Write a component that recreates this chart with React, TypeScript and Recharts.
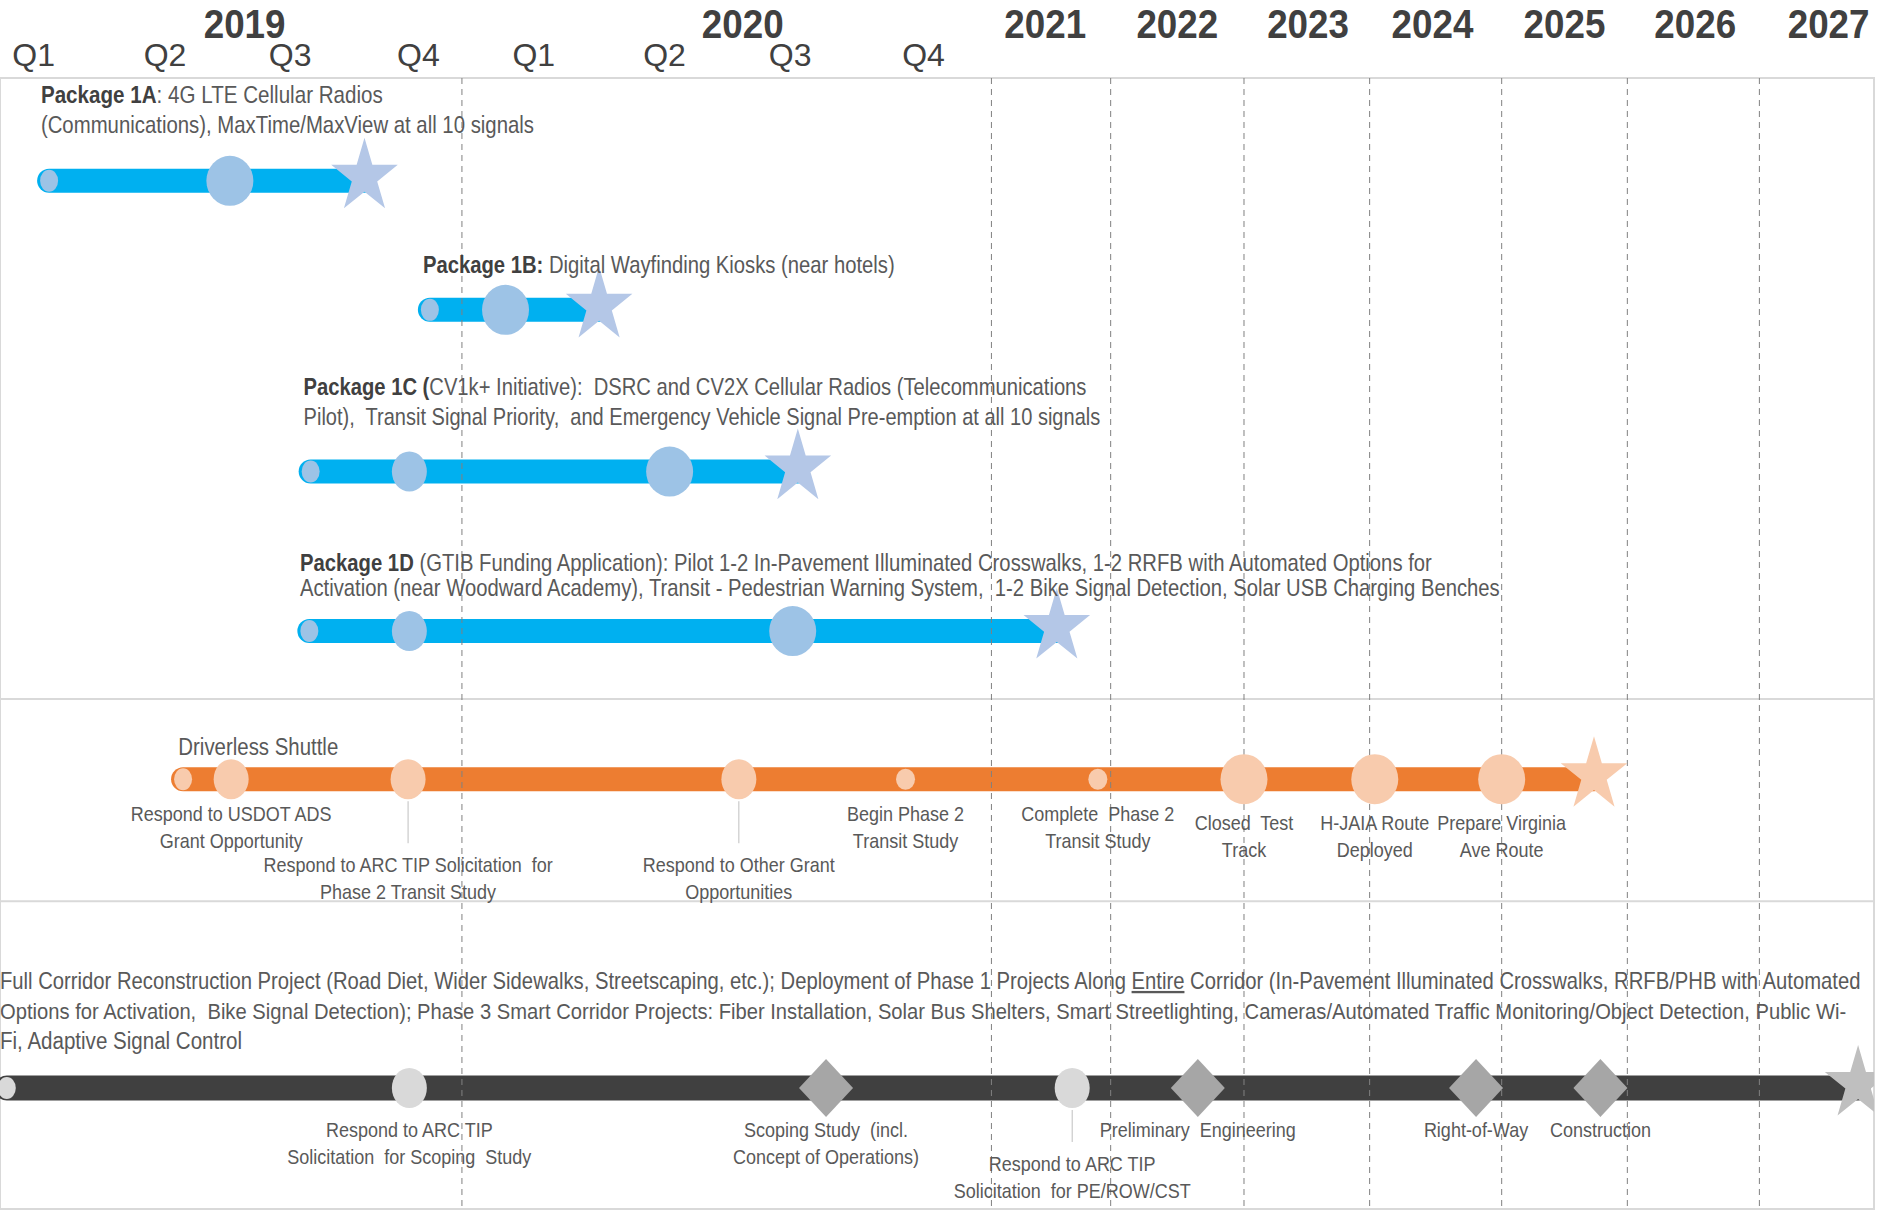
import { useLayoutEffect, useRef, useState } from "react"
import {
  ComposedChart,
  Line,
  Scatter,
  XAxis,
  YAxis,
  ReferenceLine,
  ReferenceArea,
} from "recharts"

const FONT = '"Liberation Sans Narrow", "Arial Narrow", "Liberation Sans", Arial, sans-serif'

// x is a timeline slot: one slot per quarter in 2019-2020, then one per year
const QUARTER_TICKS = [0, 1.024, 2.0, 3.0, 3.9, 4.92, 5.9, 6.94]
const QUARTER_LABELS = ["Q1", "Q2", "Q3", "Q4", "Q1", "Q2", "Q3", "Q4"]
const YEAR_TICKS = [1.645, 5.53, 7.89, 8.92, 9.94, 10.91, 11.94, 12.96, 14.0]
const YEAR_LABELS = ["2019", "2020", "2021", "2022", "2023", "2024", "2025", "2026", "2027"]
const YEAR_BREAKS = [3.34, 7.47, 8.4, 9.44, 10.42, 11.45, 12.43, 13.46]
const SECTION_BREAKS = [54.9, 72.8]
const X_DOMAIN: [number, number] = [-0.263, 14.354]

type Kind = "start" | "minor" | "mid" | "major" | "diamond" | "star"
type Milestone = { x: number; kind: Kind; label?: string[]; tier?: "a" | "b" | "c" }

const LANES = { p1a: 9.09, p1b: 20.5, p1c: 34.8, p1d: 48.9, shuttle: 62.0, corridor: 89.3 }

const PKG_1A: Milestone[] = [
  { x: 0.12, kind: "start" },
  { x: 1.53, kind: "major" },
  { x: 2.58, kind: "star" },
]
const PKG_1B: Milestone[] = [
  { x: 3.09, kind: "start" },
  { x: 3.68, kind: "major" },
  { x: 4.41, kind: "star" },
]
const PKG_1C: Milestone[] = [
  { x: 2.16, kind: "start" },
  { x: 2.93, kind: "mid" },
  { x: 4.96, kind: "major" },
  { x: 5.96, kind: "star" },
]
const PKG_1D: Milestone[] = [
  { x: 2.15, kind: "start" },
  { x: 2.93, kind: "mid" },
  { x: 5.92, kind: "major" },
  { x: 7.98, kind: "star" },
]
const SHUTTLE: Milestone[] = [
  { x: 1.165, kind: "start" },
  { x: 1.54, kind: "mid", label: ["Respond to USDOT ADS", "Grant Opportunity"], tier: "a" },
  { x: 2.92, kind: "mid", label: ["Respond to ARC TIP Solicitation  for", "Phase 2 Transit Study"], tier: "c" },
  { x: 5.5, kind: "mid", label: ["Respond to Other Grant", "Opportunities"], tier: "c" },
  { x: 6.8, kind: "minor", label: ["Begin Phase 2", "Transit Study"], tier: "a" },
  { x: 8.3, kind: "minor", label: ["Complete  Phase 2", "Transit Study"], tier: "a" },
  { x: 9.44, kind: "major", label: ["Closed  Test", "Track"], tier: "b" },
  { x: 10.46, kind: "major", label: ["H-JAIA Route", "Deployed"], tier: "b" },
  { x: 11.45, kind: "major", label: ["Prepare Virginia", "Ave Route"], tier: "b" },
  { x: 12.17, kind: "star" },
]
const CORRIDOR: Milestone[] = [
  { x: -0.21, kind: "start" },
  { x: 2.93, kind: "mid", label: ["Respond to ARC TIP", "Solicitation  for Scoping  Study"], tier: "a" },
  { x: 6.18, kind: "diamond", label: ["Scoping Study  (incl.", "Concept of Operations)"], tier: "a" },
  { x: 8.1, kind: "mid", label: ["Respond to ARC TIP", "Solicitation  for PE/ROW/CST"], tier: "c" },
  { x: 9.08, kind: "diamond", label: ["Preliminary  Engineering"], tier: "a" },
  { x: 11.25, kind: "diamond", label: ["Right-of-Way"], tier: "a" },
  { x: 12.22, kind: "diamond", label: ["Construction"], tier: "a" },
  { x: 14.23, kind: "star" },
]

type Seg = [string, ("b" | "u")?]
type Title = { id: string; x: number; y: number; lines: Seg[][] }

const TITLES: Title[] = [
  {
    id: "1A", x: 0.056, y: 1.41,
    lines: [
      [["Package 1A", "b"], [": 4G LTE Cellular Radios"]],
      [["(Communications), MaxTime/MaxView at all 10 signals"]],
    ],
  },
  { id: "1B", x: 3.036, y: 16.5, lines: [[["Package 1B:", "b"], [" Digital Wayfinding Kiosks (near hotels)"]]] },
  {
    id: "1C", x: 2.105, y: 27.3,
    lines: [
      [["Package 1C (", "b"], ["CV1k+ Initiative):  DSRC and CV2X Cellular Radios (Telecommunications"]],
      [["Pilot),  Transit Signal Priority,  and Emergency Vehicle Signal Pre-emption at all 10 signals"]],
    ],
  },
  {
    id: "1D", x: 2.077, y: 42.8,
    lines: [
      [["Package 1D", "b"], [" (GTIB Funding Application): Pilot 1-2 In-Pavement Illuminated Crosswalks, 1-2 RRFB with Automated Options for"]],
      [["Activation (near Woodward Academy), Transit - Pedestrian Warning System,  1-2 Bike Signal Detection, Solar USB Charging Benches"]],
    ],
  },
  { id: "shuttle", x: 1.128, y: 59.1, lines: [[["Driverless Shuttle"]]] },
  {
    id: "corridor", x: -0.263, y: 79.8,
    lines: [
      [
        ["Full Corridor Reconstruction Project (Road Diet, Wider Sidewalks, Streetscaping, etc.); Deployment of Phase 1 Projects Along "],
        ["Entire", "u"],
        [" Corridor (In-Pavement Illuminated Crosswalks, RRFB/PHB with Automated"],
      ],
      [["Options for Activation,  Bike Signal Detection); Phase 3 Smart Corridor Projects: Fiber Installation, Solar Bus Shelters, Smart Streetlighting, Cameras/Automated Traffic Monitoring/Object Detection, Public Wi-"]],
      [["Fi, Adaptive Signal Control"]],
    ],
  },
]

// font size, line gap and fitted line widths (px) for each text block
const TITLE_STYLE: Record<string, { size: number; gap: number; widths: number[] }> = {
  "1A": { size: 24, gap: 30, widths: [342, 493] },
  "1B": { size: 24, gap: 30, widths: [472] },
  "1C": { size: 24, gap: 30, widths: [783, 797] },
  "1D": { size: 24, gap: 25, widths: [1132, 1200] },
  shuttle: { size: 24, gap: 30, widths: [160] },
  corridor: { size: 23, gap: 30, widths: [1860, 1846, 242] },
}

const LOOKS = {
  package: { bar: "#00B0F0", dot: "#9DC3E6", star: "#B4C7E7", diamond: "#9DC3E6", width: 24 },
  shuttle: { bar: "#ED7D31", dot: "#F8CBAD", star: "#F8CBAD", diamond: "#F8CBAD", width: 24 },
  corridor: { bar: "#404040", dot: "#D9D9D9", star: "#BFBFBF", diamond: "#A6A6A6", width: 25 },
}
type Look = (typeof LOOKS)["package"]

const SIZES: Record<Kind, [number, number]> = {
  start: [9, 11],
  minor: [9.5, 10.5],
  mid: [17.5, 20],
  major: [23.5, 25],
  diamond: [27, 29],
  star: [35, 39],
}

const TIER_OFFSET: Record<string, Record<string, number>> = {
  shuttle: { a: 35, b: 44, c: 86 },
  corridor: { a: 42, c: 76 },
}

const TRACKS = [
  { id: "p1a", lane: LANES.p1a, points: PKG_1A, look: LOOKS.package },
  { id: "p1b", lane: LANES.p1b, points: PKG_1B, look: LOOKS.package },
  { id: "p1c", lane: LANES.p1c, points: PKG_1C, look: LOOKS.package },
  { id: "p1d", lane: LANES.p1d, points: PKG_1D, look: LOOKS.package },
  { id: "shuttle", lane: LANES.shuttle, points: SHUTTLE, look: LOOKS.shuttle },
  { id: "corridor", lane: LANES.corridor, points: CORRIDOR, look: LOOKS.corridor },
]

function starPath(cx: number, cy: number, rx: number, ry: number) {
  const pts: string[] = []
  for (let i = 0; i < 10; i++) {
    const a = ((-90 + i * 36) * Math.PI) / 180
    const r = i % 2 === 0 ? 1 : 0.382
    pts.push(`${cx + Math.cos(a) * r * rx},${cy + Math.sin(a) * r * ry}`)
  }
  return `M${pts.join("L")}Z`
}

const makeMarker = (look: Look) => (props: any) => {
  const { cx, cy, payload } = props
  const [rx, ry] = SIZES[payload.kind as Kind]
  if (payload.kind === "star") return <path d={starPath(cx, cy - 4, rx, ry)} fill={look.star} />
  if (payload.kind === "diamond")
    return <path d={`M${cx},${cy - ry}L${cx + rx},${cy}L${cx},${cy + ry}L${cx - rx},${cy}Z`} fill={look.diamond} />
  return <ellipse cx={cx} cy={cy} rx={rx} ry={ry} fill={look.dot} />
}

const MilestoneLabel = (props: any) => {
  const { cx, cy, payload } = props
  const dy = TIER_OFFSET[payload.track][payload.tier]
  const size = 20
  return (
    <g>
      {payload.tier === "c" && (
        <line x1={cx} x2={cx} y1={cy + 22} y2={cy + dy - 22} stroke="#BFBFBF" strokeWidth={1} />
      )}
      <g transform={`translate(${cx},0) scale(0.9,1) translate(${-cx},0)`}>
        <text textAnchor="middle" fontSize={size} fill="#595959" fontFamily={FONT} style={{ whiteSpace: "pre" }}>
          {payload.label.map((l: string, i: number) => (
            <tspan key={i} x={cx} y={cy + dy + i * 26.5 + size * 0.36}>
              {l}
            </tspan>
          ))}
        </text>
      </g>
    </g>
  )
}

// squeezes one line horizontally (no narrow font installed) to the reference width
function FitLine({ x, y, size, width, segs }: { x: number; y: number; size: number; width: number; segs: Seg[] }) {
  const ref = useRef<SVGTextElement>(null)
  const [k, setK] = useState(0.85)
  useLayoutEffect(() => {
    if (!ref.current) return
    const w = ref.current.getComputedTextLength()
    if (w > 0) setK(width / w)
  }, [width])
  return (
    <g transform={`translate(${x},0) scale(${k},1) translate(${-x},0)`}>
      <text ref={ref} x={x} y={y} fontSize={size} fill="#595959" fontFamily={FONT} style={{ whiteSpace: "pre" }}>
        {segs.map(([t, f], j) => (
          <tspan
            key={j}
            fontWeight={f === "b" ? "bold" : "normal"}
            fill={f === "b" ? "#404040" : "#595959"}
            textDecoration={f === "u" ? "underline" : undefined}
          >
            {t}
          </tspan>
        ))}
      </text>
    </g>
  )
}

const TitleText = (props: any) => {
  const { cx, cy, payload } = props
  const st = TITLE_STYLE[payload.id]
  return (
    <g>
      {payload.lines.map((segs: Seg[], i: number) => (
        <FitLine
          key={i}
          x={cx}
          y={cy + i * st.gap + st.size * 0.36}
          size={st.size}
          width={st.widths[i]}
          segs={segs}
        />
      ))}
    </g>
  )
}

const QuarterTick = (props: any) => {
  const { x, y, payload } = props
  return (
    <text x={x} y={y - 10} textAnchor="middle" fontSize={32} fill="#404040" fontFamily={FONT}>
      {QUARTER_LABELS[QUARTER_TICKS.indexOf(payload.value)]}
    </text>
  )
}

const YearTick = (props: any) => {
  const { x, y, payload } = props
  return (
    <g transform={`translate(${x},0) scale(0.92,1) translate(${-x},0)`}>
      <text x={x} y={y - 5} textAnchor="middle" fontSize={40} fontWeight="bold" fill="#404040" fontFamily={FONT}>
        {YEAR_LABELS[YEAR_TICKS.indexOf(payload.value)]}
      </text>
    </g>
  )
}

export default function App() {
  const labelData = TRACKS.flatMap((t) =>
    t.points.filter((p) => p.label).map((p) => ({ x: p.x, y: t.lane, label: p.label, tier: p.tier, track: t.id }))
  )
  return (
    <div style={{ position: "absolute", left: 0, top: 0, width: 1890, height: 1213, background: "#fff" }}>
      <ComposedChart width={1890} height={1213} margin={{ top: 0, right: 16, bottom: 4, left: 0 }}>
        <XAxis
          xAxisId="q"
          type="number"
          dataKey="x"
          domain={X_DOMAIN}
          ticks={QUARTER_TICKS}
          interval={0}
          orientation="top"
          height={33}
          axisLine={false}
          tickLine={false}
          tickSize={0}
          tick={QuarterTick}
          allowDataOverflow
        />
        <XAxis
          xAxisId="yr"
          type="number"
          dataKey="x"
          domain={X_DOMAIN}
          ticks={YEAR_TICKS}
          interval={0}
          orientation="top"
          height={45}
          axisLine={false}
          tickLine={false}
          tickSize={0}
          tick={YearTick}
          allowDataOverflow
        />
        <YAxis type="number" dataKey="y" domain={[0, 100]} reversed hide allowDataOverflow />
        <ReferenceArea
          xAxisId="q"
          x1={X_DOMAIN[0]}
          x2={X_DOMAIN[1]}
          y1={0}
          y2={100}
          fill="none"
          fillOpacity={0}
          stroke="#D9D9D9"
          strokeWidth={2}
        />
        {SECTION_BREAKS.map((b) => (
          <ReferenceLine key={b} xAxisId="q" y={b} stroke="#D9D9D9" strokeWidth={2} />
        ))}
        {TRACKS.map((t) => (
          <Line
            key={t.id + "-bar"}
            xAxisId="q"
            type="linear"
            data={[
              { x: t.points[0].x, y: t.lane },
              { x: t.points[t.points.length - 1].x, y: t.lane },
            ]}
            dataKey="y"
            stroke={t.look.bar}
            strokeWidth={t.look.width}
            strokeLinecap="round"
            dot={false}
            activeDot={false}
            isAnimationActive={false}
          />
        ))}
        {TRACKS.map((t) => (
          <Scatter
            key={t.id + "-pts"}
            xAxisId="q"
            data={t.points.map((p) => ({ ...p, y: t.lane }))}
            shape={makeMarker(t.look)}
            isAnimationActive={false}
          />
        ))}
        {YEAR_BREAKS.map((b) => (
          <ReferenceLine key={b} xAxisId="q" x={b} stroke="#808080" strokeDasharray="6 5" strokeWidth={1} />
        ))}
        <Scatter xAxisId="q" data={labelData} shape={MilestoneLabel} isAnimationActive={false} />
        <Scatter xAxisId="q" data={TITLES} shape={TitleText} isAnimationActive={false} />
      </ComposedChart>
    </div>
  )
}
